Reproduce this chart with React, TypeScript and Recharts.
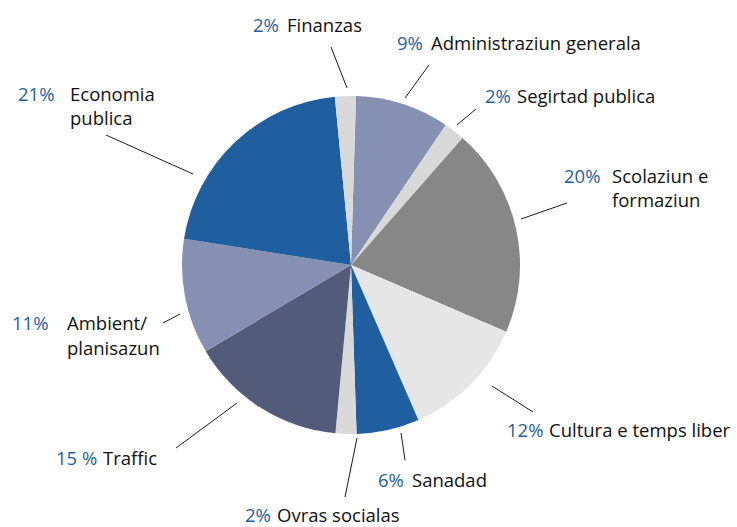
import { PieChart, Pie, Cell } from "recharts";

const categories = [
  "Administraziun generala",
  "Segirtad publica",
  "Scolaziun e formaziun",
  "Cultura e temps liber",
  "Sanadad",
  "Ovras socialas",
  "Traffic",
  "Ambient/ planisazun",
  "Economia publica",
  "Finanzas",
];
const shares = [9, 2, 20, 12, 6, 2, 15, 11, 21, 2];
const pctLabels = ["9%", "2%", "20%", "12%", "6%", "2%", "15 %", "11%", "21%", "2%"];
const nameLines = [
  ["Administraziun generala"],
  ["Segirtad publica"],
  ["Scolaziun e", "formaziun"],
  ["Cultura e temps liber"],
  ["Sanadad"],
  ["Ovras socialas"],
  ["Traffic"],
  ["Ambient/", "planisazun"],
  ["Economia", "publica"],
  ["Finanzas"],
];

const COLORS = [
  "#8690b3",
  "#d9d9d9",
  "#878787",
  "#e6e6e6",
  "#1f5f9f",
  "#d9d9d9",
  "#525b7a",
  "#8690b3",
  "#1f5f9f",
  "#d9d9d9",
];

// leader line + text placement, relative to the pie centre
// line: [x1, y1, x2, y2], pct: [x, baseline y], nameX: x of the name, lh: line height
const LAYOUT = [
  { line: [78, -200, 54, -167], pct: [46, -215], nameX: 80, lh: 24 },
  { line: [125, -156, 106, -140], pct: [134, -162], nameX: 166, lh: 24 },
  { line: [216, -62, 170, -46], pct: [213, -82], nameX: 261, lh: 24 },
  { line: [182, 147, 141, 121], pct: [156, 172], nameX: 198, lh: 24 },
  { line: [54, 195, 50, 168], pct: [27, 222], nameX: 61, lh: 24 },
  { line: [-6, 232, 6, 173], pct: [-106, 257], nameX: -74, lh: 24 },
  { line: [-175, 183, -114, 138], pct: [-295, 200], nameX: -248, lh: 24 },
  { line: [-188, 58, -171, 49], pct: [-339, 65], nameX: -284, lh: 25 },
  { line: [-245, -130, -158, -91], pct: [-333, -164], nameX: -281, lh: 24 },
  { line: [-20, -218, -4, -177], pct: [-98, -233], nameX: -64, lh: 24 },
];

const BLUE = "#1f5f9f";
const FONT = "'Open Sans', sans-serif";
const FS = 18.5;

const renderLabel = (props: any) => {
  const { cx, cy, index } = props;
  const l = LAYOUT[index];
  const [x1, y1, x2, y2] = l.line;
  const py = cy + l.pct[1];
  return (
    <g key={`lbl-${index}`}>
      <line
        x1={cx + x1}
        y1={cy + y1}
        x2={cx + x2}
        y2={cy + y2}
        stroke="#1a1a1a"
        strokeWidth={1}
      />
      <text x={cx + l.pct[0]} y={py} fontFamily={FONT} fontSize={FS} fill={BLUE}>
        {pctLabels[index]}
      </text>
      {nameLines[index].map((t, i) => (
        <text
          key={i}
          x={cx + l.nameX}
          y={py + i * l.lh}
          fontFamily={FONT}
          fontSize={FS}
          fill="#111"
        >
          {t}
        </text>
      ))}
    </g>
  );
};

const data = categories.map((name, i) => ({ name, value: shares[i] }));

export default function App() {
  const start = 88.3;
  return (
    <div style={{ position: "absolute", left: 0, top: 0, width: 737, height: 527, background: "#fff" }}>
      <PieChart width={737} height={527} margin={{ top: 0, right: 0, bottom: 0, left: 0 }}>
        <Pie
          data={data}
          dataKey="value"
          cx={351}
          cy={265}
          innerRadius={0}
          outerRadius={169}
          startAngle={start}
          endAngle={start - 360}
          stroke="none"
          label={renderLabel}
          labelLine={false}
          isAnimationActive={false}
        >
          {data.map((entry, index) => (
            <Cell key={`cell-${index}`} fill={COLORS[index]} />
          ))}
        </Pie>
      </PieChart>
    </div>
  );
}
